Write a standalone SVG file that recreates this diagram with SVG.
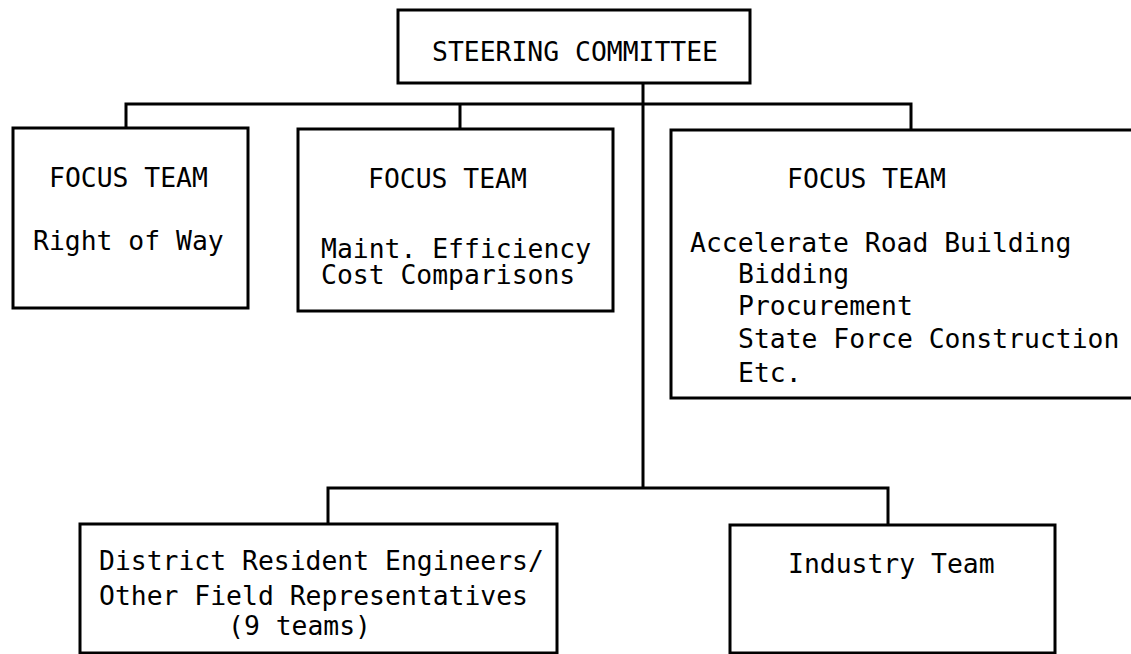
<svg xmlns="http://www.w3.org/2000/svg" width="1131" height="654" viewBox="0 0 1131 654">
  <style>
    .box { fill: #ffffff; stroke: #000000; stroke-width: 3; }
    .wire { fill: none; stroke: #000000; stroke-width: 3; stroke-linejoin: miter; }
    .label { font-family: "DejaVu Sans Mono", "Liberation Mono", monospace; font-size: 26.4px; fill: #000000; }
  </style>
  <rect width="1131" height="654" fill="#ffffff"/>

  <!-- connectors -->
  <g id="connectors">
    <!-- trunk from the steering committee down to the lower branch -->
    <path class="wire" d="M643,83 V488"/>
    <!-- upper branch to the three focus teams -->
    <path class="wire" d="M126,128 V104 H911 V130"/>
    <path class="wire" d="M460,129 V104"/>
    <!-- lower branch to field representatives and industry -->
    <path class="wire" d="M328,524 V488 H888 V525"/>
  </g>

  <g id="steering-committee">
    <rect class="box" x="398" y="10" width="352" height="73"/>
    <text class="label" x="432" y="61">STEERING COMMITTEE</text>
  </g>

  <g id="focus-right-of-way">
    <rect class="box" x="13" y="128" width="235" height="180"/>
    <text class="label" x="49" y="187">FOCUS TEAM</text>
    <text class="label" x="33" y="250">Right of Way</text>
  </g>

  <g id="focus-maintenance">
    <rect class="box" x="298" y="129" width="315" height="182"/>
    <text class="label" x="368" y="188">FOCUS TEAM</text>
    <text class="label" x="321" y="258">Maint. Efficiency</text>
    <text class="label" x="321" y="284">Cost Comparisons</text>
  </g>

  <g id="focus-road-building">
    <rect class="box" x="671" y="130" width="470" height="268"/>
    <text class="label" x="787" y="188">FOCUS TEAM</text>
    <text class="label" x="690" y="252">Accelerate Road Building</text>
    <text class="label" x="738" y="283">Bidding</text>
    <text class="label" x="738" y="315">Procurement</text>
    <text class="label" x="738" y="348">State Force Construction</text>
    <text class="label" x="738" y="382">Etc.</text>
  </g>

  <g id="district-engineers">
    <rect class="box" x="80" y="524" width="477" height="129"/>
    <text class="label" x="99" y="570">District Resident Engineers/</text>
    <text class="label" x="99" y="605">Other Field Representatives</text>
    <text class="label" x="228" y="635">(9 teams)</text>
  </g>

  <g id="industry-team">
    <rect class="box" x="730" y="525" width="325" height="128"/>
    <text class="label" x="788" y="573">Industry Team</text>
  </g>
</svg>
